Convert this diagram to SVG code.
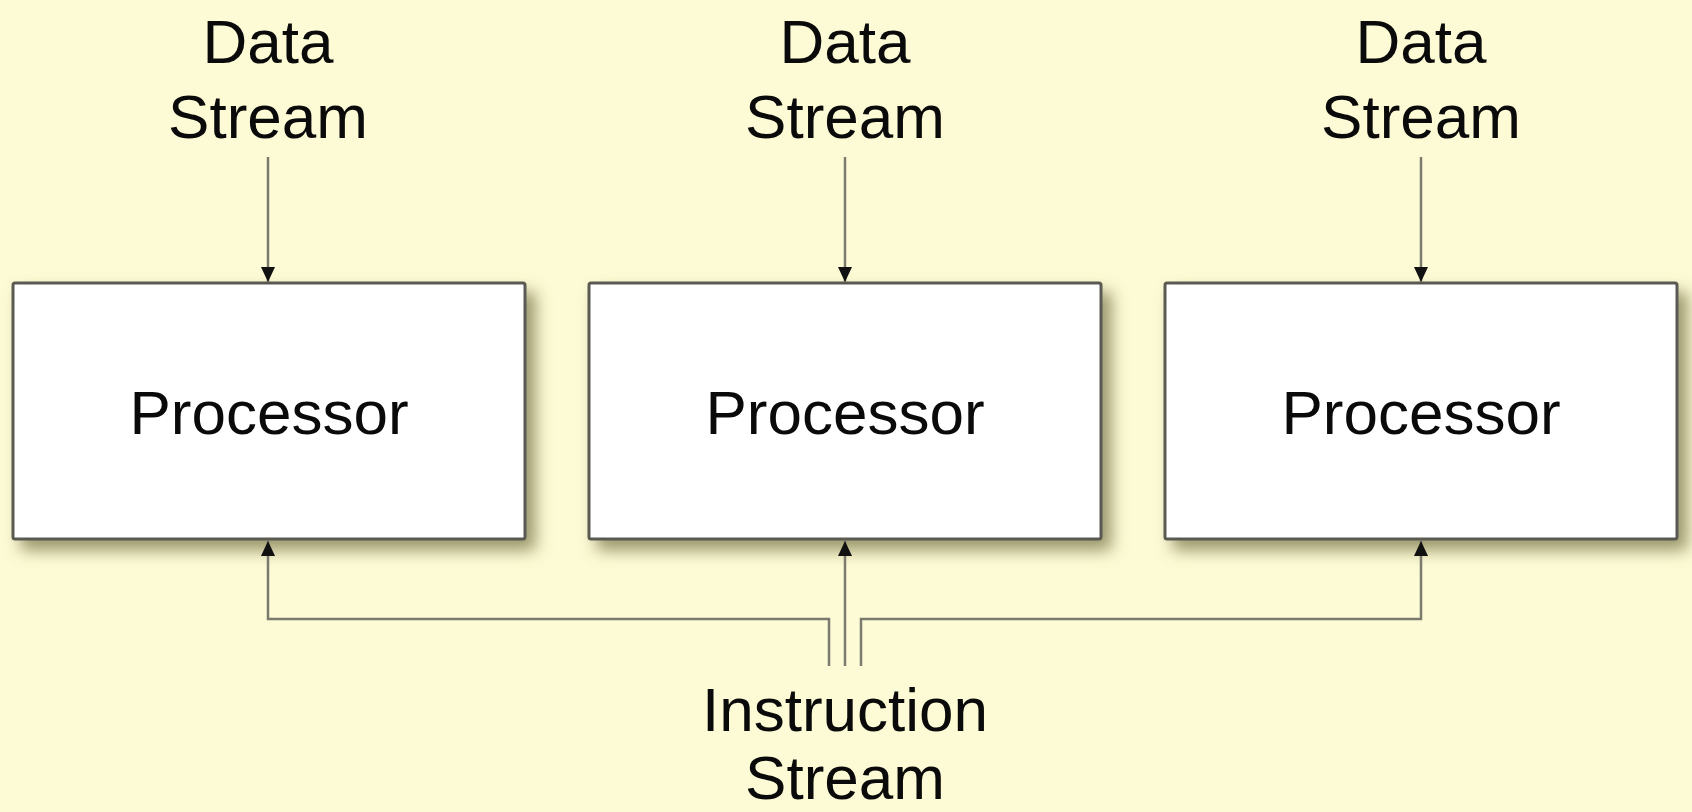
<svg xmlns="http://www.w3.org/2000/svg" width="1692" height="812" viewBox="0 0 1692 812">
<style>
.lbl{font-family:"Liberation Sans",Arial,sans-serif;font-size:62px;fill:#0a0a0a;text-anchor:middle}
.box{fill:#ffffff;stroke:#5a5a52;stroke-width:3}
.wire{fill:none;stroke:#7a7a6e;stroke-width:2.5}
</style>
<defs>
<filter id="sh" x="-10%" y="-10%" width="125%" height="135%">
<feDropShadow dx="9" dy="10" stdDeviation="8" flood-color="#6f6c40" flood-opacity="0.7"/>
</filter>
<marker id="ah" markerUnits="userSpaceOnUse" markerWidth="16" markerHeight="16" viewBox="0 0 16 16" refX="15" refY="8" orient="auto">
<path d="M0,1 L15,8 L0,15 Z" fill="#111"/>
</marker>
</defs>
<rect width="1692" height="812" fill="#fdfbd5"/>
<g id="data1">
<text class="lbl" x="268" y="63">Data</text>
<text class="lbl" x="268" y="138">Stream</text>
</g>
<g id="data2">
<text class="lbl" x="845" y="63">Data</text>
<text class="lbl" x="845" y="138">Stream</text>
</g>
<g id="data3">
<text class="lbl" x="1421" y="63">Data</text>
<text class="lbl" x="1421" y="138">Stream</text>
</g>
<g id="proc1">
<rect class="box" x="13" y="283" width="512" height="256" rx="2" filter="url(#sh)"/>
<text class="lbl" x="269" y="434">Processor</text>
</g>
<g id="proc2">
<rect class="box" x="589" y="283" width="512" height="256" rx="2" filter="url(#sh)"/>
<text class="lbl" x="845" y="434">Processor</text>
</g>
<g id="proc3">
<rect class="box" x="1165" y="283" width="512" height="256" rx="2" filter="url(#sh)"/>
<text class="lbl" x="1421" y="434">Processor</text>
</g>
<g id="instr">
<text class="lbl" x="845" y="731">Instruction</text>
<text class="lbl" x="845" y="799">Stream</text>
</g>
<g id="connectors">
<path class="wire" d="M268,157 V282" marker-end="url(#ah)"/>
<path class="wire" d="M845,157 V282" marker-end="url(#ah)"/>
<path class="wire" d="M1421,157 V282" marker-end="url(#ah)"/>
<path class="wire" d="M829,666 V619 H268 V541" marker-end="url(#ah)"/>
<path class="wire" d="M845,666 V541" marker-end="url(#ah)"/>
<path class="wire" d="M861,666 V619 H1421 V541" marker-end="url(#ah)"/>
</g>
</svg>
